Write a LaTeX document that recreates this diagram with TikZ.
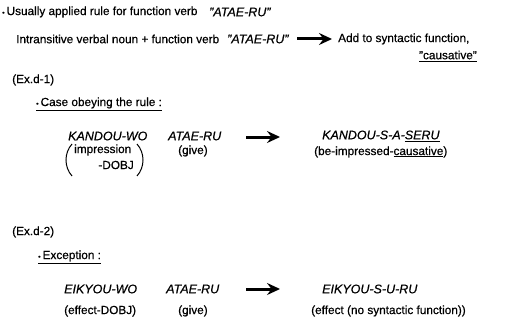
\documentclass[tikz,border=0pt]{standalone}
\usepackage{fontspec}
\setmainfont{Liberation Sans}[FakeBold=0.5,AutoFakeBold=0.5]
\usetikzlibrary{arrows.meta}
\newcommand{\romaji}[1]{{\itshape\fontsize{12.5}{14}\selectfont#1}}
\begin{document}
\begin{tikzpicture}[x=1pt,y=-1pt,
  txt/.style={anchor=west,inner sep=0pt,font=\fontsize{11.8}{14}\selectfont},
  fatarrow/.style={line width=3pt,-{Stealth[length=13pt,width=12pt,inset=4.5pt]}},
  paren/.style={line width=1pt}]
\useasboundingbox (0,0) rectangle (529,326);
% general rule
\node[txt] (rule) at (2,12) {{\scriptsize\textbullet}\,Usually applied rule for function verb};
\node[txt] (ruleverb) at (209,12) {\romaji{"ATAE-RU"}};
\node[txt] (lhs) at (16,39) {Intransitive verbal noun + function verb};
\node[txt] (lhsverb) at (227,39) {\romaji{"ATAE-RU"}};
\node[txt] (rhs) at (338,39) {Add to syntactic function,};
\node[txt,anchor=east] (rhscaus) at (477,56) {\underline{"causative"}};
\coordinate (a1s) at (297,39);
\coordinate (a1e) at (332,39);
\draw[fatarrow] (a1s) -- (a1e);
% example d-1
\node[txt] (ex1) at (12,80) {(Ex.d-1)};
\node[txt] (case1) at (36,104) {\underline{{\scriptsize\textbullet}\,Case obeying the rule :}};
\node[txt] (kandou) at (68,136) {\romaji{KANDOU-WO}};
\node[txt] (atae1) at (168,136) {\romaji{ATAE-RU}};
\node[txt] (kres) at (322,136) {\romaji{KANDOU-S-A-\underline{SERU}}};
\node[txt] (impr) at (74,150) {impression};
\node[txt,anchor=east] (dobj1) at (134,165) {-DOBJ};
\node[txt] (give1) at (178,151) {(give)};
\node[txt] (kgloss) at (314,152) {(be-impressed-\underline{causative})};
\draw[paren] (72,144) .. controls (64,153) and (64,167) .. (72,176);
\draw[paren] (137,144) .. controls (145,153) and (145,167) .. (137,176);
\coordinate (a2s) at (246,137);
\coordinate (a2e) at (280,137);
\draw[fatarrow] (a2s) -- (a2e);
% example d-2
\node[txt] (ex2) at (12,232) {(Ex.d-2)};
\node[txt] (case2) at (38,257) {\underline{{\scriptsize\textbullet}\,Exception :}};
\node[txt] (eikyou) at (64,289) {\romaji{EIKYOU-WO}};
\node[txt] (atae2) at (166,289) {\romaji{ATAE-RU}};
\node[txt] (eres) at (322,289) {\romaji{EIKYOU-S-U-RU}};
\node[txt] (egloss1) at (64,311) {(effect-DOBJ)};
\node[txt] (give2) at (178,311) {(give)};
\node[txt] (egloss2) at (311,311) {(effect (no syntactic function))};
\coordinate (a3s) at (246,289);
\coordinate (a3e) at (280,289);
\draw[fatarrow] (a3s) -- (a3e);
\end{tikzpicture}
\end{document}
